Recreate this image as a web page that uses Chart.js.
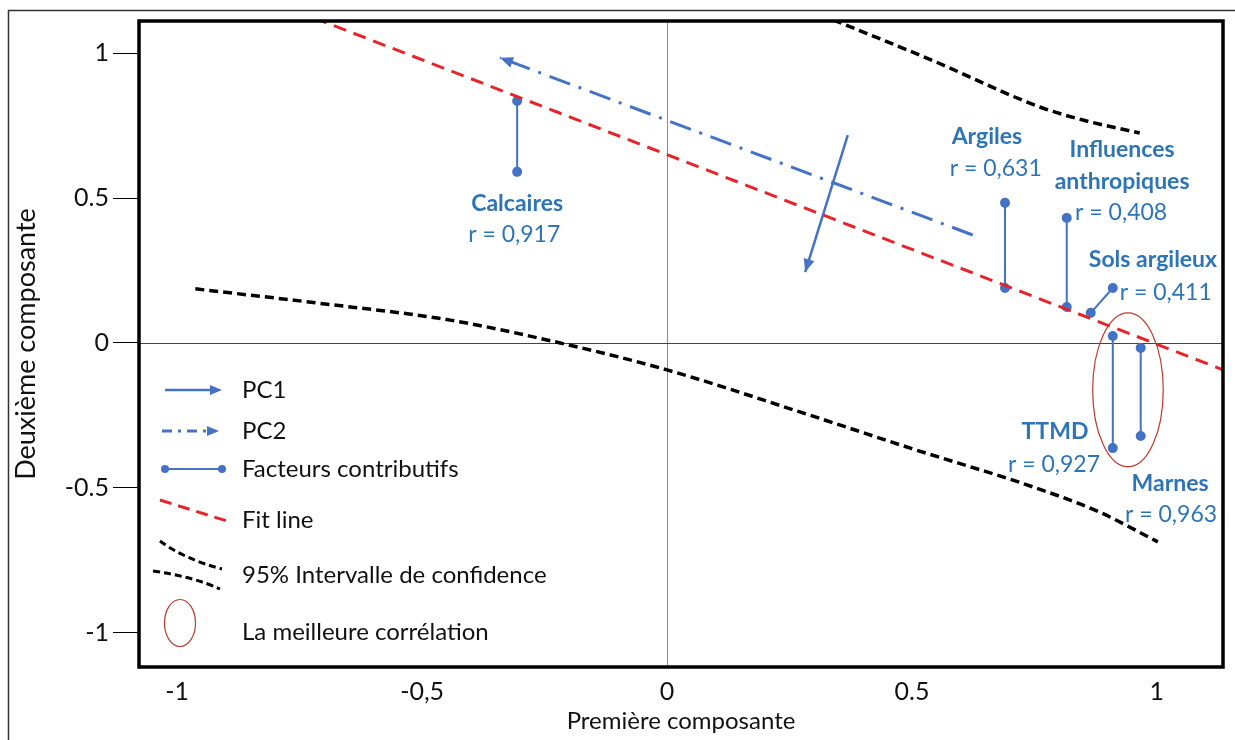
<!DOCTYPE html>
<html>
<head>
<meta charset="utf-8">
<script src="https://cdn.jsdelivr.net/npm/chart.js@4.4.1/dist/chart.umd.min.js"></script>
<style>
  html, body { margin: 0; padding: 0; background: #fff; }
  #wrap { width: 1235px; height: 740px; position: relative; }
</style>
</head>
<body>
<div id="wrap"><canvas id="c" width="1235" height="740"></canvas></div>
<script>
// ---------- DATA ----------
const xTickValues = [-1, -0.5, 0, 0.5, 1];
const xTickLabels = ["-1", "-0,5", "0", "0.5", "1"];
const yTickValues = [-1, -0.5, 0, 0.5, 1];
const yTickLabels = ["-1", "-0.5", "0", "0.5", "1"];

// Fit line (two read endpoints)
const fitLineX = [-0.72, 1.14];
const fitLineY = [1.122, -0.096];

// 95% confidence interval curves
const ciUpperX = [0.339, 0.543, 0.761, 0.849, 0.965];
const ciUpperY = [1.116, 0.975, 0.815, 0.770, 0.725];
const ciLowerX = [-0.963, -0.714, -0.443, -0.218, 0, 0.271, 0.5, 0.747, 0.884, 1.002];
const ciLowerY = [0.187, 0.138, 0.079, 0.0, -0.093, -0.238, -0.365, -0.497, -0.585, -0.687];

// Principal component arrows (tail -> head)
const pc1X = [0.369, 0.282];
const pc1Y = [0.718, 0.245];
const pc2X = [0.624, -0.341];
const pc2Y = [0.373, 0.985];

// Contributing factors: segment start/end
const factorNames = ["Calcaires", "Argiles", "Influences anthropiques", "Sols argileux", "TTMD", "Marnes"];
const factorR     = ["0,917", "0,631", "0,408", "0,411", "0,927", "0,963"];
const factorX1 = [-0.306, 0.690, 0.816, 0.865, 0.910, 0.967];
const factorY1 = [0.836, 0.484, 0.432, 0.104, 0.024, -0.017];
const factorX2 = [-0.306, 0.690, 0.816, 0.910, 0.910, 0.967];
const factorY2 = [0.591, 0.190, 0.124, 0.190, -0.363, -0.321];

// Best correlation ellipse: center and radii (data units)
const ellipseCenter = [0.941, -0.162];
const ellipseRadii = [0.072, 0.266];

// Text annotations (data coordinates of text centers)
const annoText = ["Calcaires", "r = 0,917", "Argiles", "r = 0,631", "Influences", "anthropiques", "r = 0,408",
                  "Sols argileux", "r = 0,411", "TTMD", "r = 0,927", "Marnes", "r = 0,963"];
const annoBold = [true, false, true, false, true, true, false, true, false, true, false, true, false];
const annoX = [-0.306, -0.312, 0.653, 0.671, 0.929, 0.929, 0.927, 0.992, 1.018, 0.792, 0.790, 1.027, 1.029];
const annoY = [0.480, 0.373, 0.712, 0.604, 0.667, 0.556, 0.449, 0.287, 0.173, -0.307, -0.421, -0.484, -0.594];

const legendLabels = ["PC1", "PC2", "Facteurs contributifs", "Fit line", "95% Intervalle de confidence", "La meilleure corrélation"];

// ---------- STYLE ----------
const FONT = "Lato, 'Open Sans', sans-serif";
const BLUE = "#4472C4";
const TEXTBLUE = "#2E75B6";
const RED = "#E3262B";
const ELLRED = "#C0392B";

const zip = (xs, ys) => xs.map((x, i) => ({x, y: ys[i]}));

const datasets = [
  { label: "fit", data: zip(fitLineX, fitLineY), borderColor: RED, borderWidth: 3, borderDash: [13, 8], pointRadius: 0, showLine: true },
  { label: "ciU", data: zip(ciUpperX, ciUpperY), borderColor: "#000", borderWidth: 3.5, borderDash: [9, 5], pointRadius: 0, showLine: true, cubicInterpolationMode: "monotone" },
  { label: "ciL", data: zip(ciLowerX, ciLowerY), borderColor: "#000", borderWidth: 3.5, borderDash: [9, 5], pointRadius: 0, showLine: true, cubicInterpolationMode: "monotone" },
  { label: "pc2", arrow: true, data: zip(pc2X, pc2Y), borderColor: BLUE, borderWidth: 3, borderDash: [22, 9, 3, 9], pointRadius: 0, showLine: true },
  { label: "pc1", arrow: true, data: zip(pc1X, pc1Y), borderColor: BLUE, borderWidth: 2.5, pointRadius: 0, showLine: true },
];
factorNames.forEach((n, i) => {
  datasets.push({ label: n, data: [{x: factorX1[i], y: factorY1[i]}, {x: factorX2[i], y: factorY2[i]}],
    borderColor: BLUE, backgroundColor: BLUE, borderWidth: 2, pointRadius: 4, pointHoverRadius: 4, showLine: true });
});

function drawArrowHead(ctx, x0, y0, x1, y1, len, half, color) {
  const a = Math.atan2(y1 - y0, x1 - x0);
  ctx.save();
  ctx.fillStyle = color;
  ctx.beginPath();
  ctx.moveTo(x1, y1);
  ctx.lineTo(x1 - len * Math.cos(a) + half * Math.sin(a), y1 - len * Math.sin(a) - half * Math.cos(a));
  ctx.lineTo(x1 - len * Math.cos(a) - half * Math.sin(a), y1 - len * Math.sin(a) + half * Math.cos(a));
  ctx.closePath();
  ctx.fill();
  ctx.restore();
}

const decorPlugin = {
  id: "decor",
  beforeDatasetsDraw(chart) {
    const {ctx, chartArea: ca, scales: {x, y}} = chart;
    ctx.save();
    ctx.lineWidth = 1;
    ctx.strokeStyle = "#8a8a8a";
    const x0 = Math.round(x.getPixelForValue(0)) + 0.5;
    ctx.beginPath(); ctx.moveTo(x0, ca.top); ctx.lineTo(x0, ca.bottom); ctx.stroke();
    ctx.strokeStyle = "#444";
    ctx.lineWidth = 1.2;
    const y0 = Math.round(y.getPixelForValue(0)) + 0.5;
    ctx.beginPath(); ctx.moveTo(ca.left, y0); ctx.lineTo(ca.right, y0); ctx.stroke();
    ctx.restore();
  },
  afterDatasetsDraw(chart) {
    const {ctx, chartArea: ca, scales: {x, y}} = chart;
    chart.data.datasets.forEach((ds) => {
      if (!ds.arrow) return;
      const d = ds.data, n = d.length;
      drawArrowHead(ctx, x.getPixelForValue(d[n-2].x), y.getPixelForValue(d[n-2].y),
        x.getPixelForValue(d[n-1].x), y.getPixelForValue(d[n-1].y), 13, 5.5, ds.borderColor);
    });
    ctx.save();
    ctx.strokeStyle = ELLRED;
    ctx.lineWidth = 1.2;
    const cx = x.getPixelForValue(ellipseCenter[0]), cy = y.getPixelForValue(ellipseCenter[1]);
    const rx = Math.abs(x.getPixelForValue(ellipseCenter[0] + ellipseRadii[0]) - cx);
    const ry = Math.abs(y.getPixelForValue(ellipseCenter[1] + ellipseRadii[1]) - cy);
    ctx.beginPath(); ctx.ellipse(cx, cy, rx, ry, 0, 0, Math.PI * 2); ctx.stroke();
    ctx.restore();
    ctx.save();
    ctx.fillStyle = TEXTBLUE;
    ctx.textAlign = "center";
    ctx.textBaseline = "middle";
    annoText.forEach((t, i) => {
      ctx.font = (annoBold[i] ? "bold 23px " : "23px ") + FONT;
      ctx.fillText(t, x.getPixelForValue(annoX[i]), y.getPixelForValue(annoY[i]));
    });
    ctx.restore();
    ctx.save();
    ctx.strokeStyle = "#000";
    ctx.lineWidth = 3.5;
    ctx.strokeRect(ca.left, ca.top, ca.right - ca.left, ca.bottom - ca.top);
    ctx.restore();
    ctx.save();
    ctx.strokeStyle = "#333";
    ctx.lineWidth = 1.5;
    ctx.beginPath(); ctx.moveTo(8.5, 745); ctx.lineTo(8.5, 10.5); ctx.lineTo(1240, 10.5); ctx.stroke();
    ctx.restore();
    drawLegend(ctx, ca);
  }
};

function drawLegend(ctx, ca) {
  const L = ca.left, T = ca.top;
  ctx.save();
  ctx.strokeStyle = BLUE; ctx.lineWidth = 2.5;
  ctx.beginPath(); ctx.moveTo(L + 26, T + 369); ctx.lineTo(L + 74, T + 369); ctx.stroke();
  drawArrowHead(ctx, L + 26, T + 369, L + 83, T + 369, 12, 5, BLUE);
  ctx.setLineDash([10, 6, 3, 6]); ctx.lineWidth = 3;
  ctx.beginPath(); ctx.moveTo(L + 23, T + 410); ctx.lineTo(L + 70, T + 410); ctx.stroke();
  ctx.setLineDash([]);
  drawArrowHead(ctx, L + 23, T + 410, L + 80, T + 410, 12, 5, BLUE);
  ctx.lineWidth = 2;
  ctx.beginPath(); ctx.moveTo(L + 26, T + 448); ctx.lineTo(L + 83, T + 448); ctx.stroke();
  ctx.fillStyle = BLUE;
  [26, 83].forEach(dx => { ctx.beginPath(); ctx.arc(L + dx, T + 448, 4, 0, Math.PI * 2); ctx.fill(); });
  ctx.strokeStyle = RED; ctx.lineWidth = 3; ctx.setLineDash([12, 7]);
  ctx.beginPath(); ctx.moveTo(L + 21, T + 479); ctx.lineTo(L + 91, T + 501); ctx.stroke();
  ctx.strokeStyle = "#000"; ctx.lineWidth = 3; ctx.setLineDash([7, 4]);
  ctx.beginPath(); ctx.moveTo(L + 21, T + 520); ctx.quadraticCurveTo(L + 45, T + 538, L + 83, T + 548); ctx.stroke();
  ctx.beginPath(); ctx.moveTo(L + 14, T + 550); ctx.quadraticCurveTo(L + 55, T + 556, L + 81, T + 568); ctx.stroke();
  ctx.setLineDash([]);
  ctx.strokeStyle = ELLRED; ctx.lineWidth = 1.2;
  ctx.beginPath(); ctx.ellipse(L + 41, T + 602, 15.5, 23.5, 0, 0, Math.PI * 2); ctx.stroke();
  ctx.fillStyle = "#111";
  ctx.font = "24px " + FONT;
  ctx.textAlign = "left"; ctx.textBaseline = "middle";
  const ys = [369, 410, 448, 499, 554, 611];
  legendLabels.forEach((t, i) => ctx.fillText(t, L + 103, T + ys[i]));
  ctx.restore();
}

new Chart(document.getElementById("c"), {
  type: "scatter",
  data: { datasets },
  options: {
    responsive: false,
    animation: false,
    layout: { padding: { left: 6, right: 12, top: 21, bottom: 0 } },
    plugins: { legend: { display: false }, tooltip: { enabled: false } },
    scales: {
      x: {
        type: "linear", min: -1.078, max: 1.135,
        afterBuildTicks: s => { s.ticks = xTickValues.map(v => ({value: v})); },
        afterFit: s => { s.height = 73; },
        ticks: { callback: (v, i) => xTickLabels[i], color: "#111", font: { family: FONT, size: 25 }, padding: 10, maxRotation: 0, autoSkip: false },
        grid: { display: false, drawTicks: false },
        border: { display: false },
        title: { display: true, text: "Première composante", color: "#111", font: { family: FONT, size: 24 }, padding: { top: 0, bottom: 4 } }
      },
      y: {
        type: "linear", min: -1.119, max: 1.112,
        afterBuildTicks: s => { s.ticks = yTickValues.map(v => ({value: v})); },
        afterFit: s => { s.width = 133; },
        ticks: { callback: (v, i) => yTickLabels[i], color: "#111", font: { family: FONT, size: 25 }, padding: 4, autoSkip: false },
        grid: { display: true, drawOnChartArea: false, drawTicks: true, tickLength: 26, tickColor: "#000", tickWidth: 1 },
        border: { display: false },
        title: { display: true, text: "Deuxième composante", color: "#111", font: { family: FONT, size: 27 }, padding: { top: 4, bottom: 0 } }
      }
    }
  },
  plugins: [decorPlugin]
});
</script>
</body>
</html>
